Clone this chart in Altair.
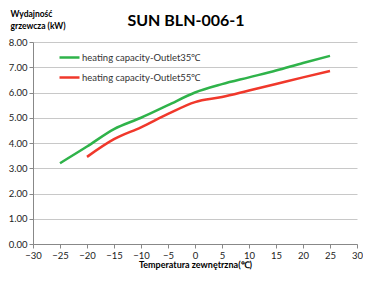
import altair as alt
import pandas as pd

temps35 = [-25, -20, -15, -10, -5, 0, 5, 10, 15, 20, 25]
cap35 = [3.20, 3.86, 4.55, 5.00, 5.50, 6.00, 6.33, 6.60, 6.87, 7.17, 7.45]
temps55 = [-20, -15, -10, -5, 0, 5, 10, 15, 20, 25]
cap55 = [3.45, 4.15, 4.62, 5.15, 5.62, 5.82, 6.08, 6.34, 6.60, 6.85]
series = ["heating capacity-Outlet35℃", "heating capacity-Outlet55℃"]
colors = ["#2fb34a", "#f0382b"]

df = pd.concat([
    pd.DataFrame({"t": temps35, "c": cap35, "s": series[0]}),
    pd.DataFrame({"t": temps55, "c": cap55, "s": series[1]}),
])

font = "Lato"

chart = alt.Chart(df).mark_line(strokeWidth=2.5, interpolate="monotone").encode(
    x=alt.X("t:Q", scale=alt.Scale(domain=[-30, 30], nice=False),
            axis=alt.Axis(values=list(range(-30, 31, 5)), grid=False,
                          title="Temperatura zewnętrzna(℃)", titleFont=font,
                          titleFontSize=9, titleFontWeight="bold", titleColor="#000",
                          titlePadding=1, labelFont=font, labelFontSize=9.5,
                          labelColor="#222", labelPadding=2, tickSize=4,
                          domainColor="#888", tickColor="#888",
                          labelFlush=False)),
    y=alt.Y("c:Q", scale=alt.Scale(domain=[0, 8], nice=False),
            axis=alt.Axis(values=[0, 1, 2, 3, 4, 5, 6, 7, 8], format=".2f",
                          grid=True, gridColor="#c8c8c8",
                          title=["Wydajność", "grzewcza (kW)"], titleAngle=0,
                          titleAlign="left", titleBaseline="alphabetic",
                          titleX=-23, titleY=-26, titleLineHeight=12,
                          titleFont=font, titleFontSize=8.5, titleFontWeight="bold",
                          titleColor="#000", labelFont=font, labelFontSize=9.5,
                          labelColor="#222", labelPadding=2, tickSize=4,
                          domainColor="#888", tickColor="#888")),
    color=alt.Color("s:N", scale=alt.Scale(domain=series, range=colors),
                    legend=alt.Legend(title=None, orient="none", legendX=25, legendY=4,
                                      symbolType="stroke", symbolSize=400,
                                      symbolStrokeWidth=2.5, labelFont=font,
                                      labelFontSize=9.5, labelColor="#333",
                                      labelOffset=1, rowPadding=3)),
).properties(
    width=324, height=202,
    title=alt.TitleParams("SUN BLN-006-1", font=font, fontSize=16, fontWeight="bold",
                          color="#000", anchor="middle", dx=-9, offset=-20),
    autosize=alt.AutoSizeParams(type="none"),
    padding={"left": 25, "top": 34, "right": 6, "bottom": 29},
).configure_view(stroke=None)

chart.save("out.html", embed_options={"renderer": "svg", "actions": False})
